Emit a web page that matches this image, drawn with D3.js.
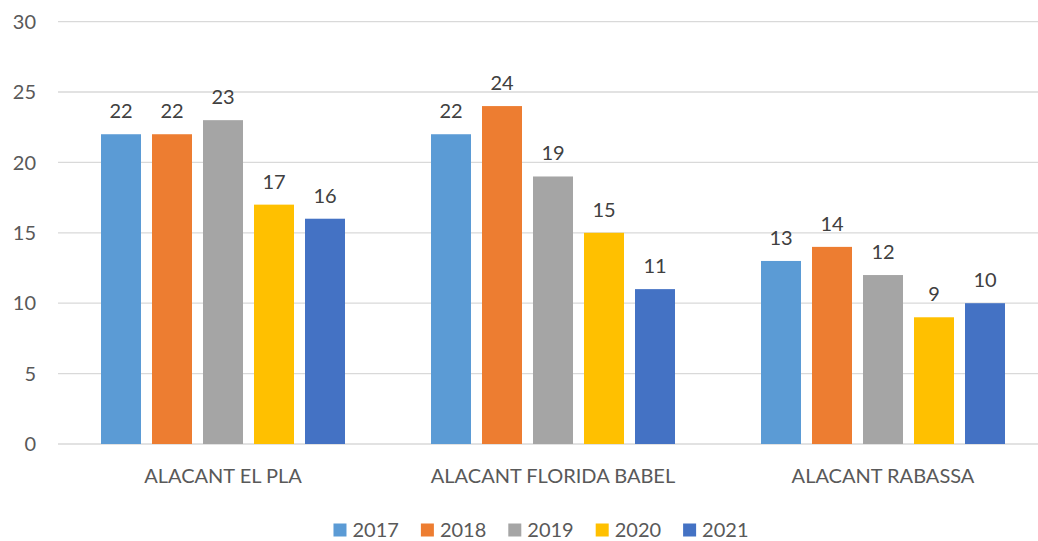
<!DOCTYPE html>
<html lang="en">
<head>
  <meta charset="UTF-8">
  <title>Alacant stations by year</title>
  <style>
    html, body { margin: 0; padding: 0; background: #fff; overflow: hidden; }
    svg { display: block; }
    svg text { font-family: Lato, "Open Sans", sans-serif; }
  </style>
</head>
<body>
<div id="chart"></div>
<script src="https://d3js.org/d3.v7.min.js"></script>
<script>
  const categories = ['ALACANT EL PLA', 'ALACANT FLORIDA BABEL', 'ALACANT RABASSA'];
  const years = ['2017', '2018', '2019', '2020', '2021'];
  const values2017 = [22, 22, 13];
  const values2018 = [22, 24, 14];
  const values2019 = [23, 19, 12];
  const values2020 = [17, 15, 9];
  const values2021 = [16, 11, 10];
  const yTicks = [0, 5, 10, 15, 20, 25, 30];
  const colors = ['#5B9BD5', '#ED7D31', '#A5A5A5', '#FFC000', '#4472C4'];

  const seriesValues = [values2017, values2018, values2019, values2020, values2021];

  const width = 1038;
  const height = 541;
  const margin = { top: 21.6, right: -10, bottom: 97, left: 58 };

  const svg = d3.select('#chart').append('svg')
    .attr('width', width)
    .attr('height', height);

  const y = d3.scaleLinear()
    .domain([0, 30])
    .range([height - margin.bottom, margin.top]);

  const x0 = d3.scaleBand()
    .domain(categories)
    .range([margin.left, width - margin.right]);

  // inner band: 40px bars, 11px gaps, centred in each group
  const innerWidth = 244;
  const x1 = d3.scaleBand()
    .domain(years)
    .range([(x0.bandwidth() - innerWidth) / 2, (x0.bandwidth() + innerWidth) / 2])
    .paddingInner(11 / 51);

  // flat list of bars
  const bars = [];
  categories.forEach((c, ci) => {
    years.forEach((yr, si) => {
      bars.push({ cat: c, year: yr, si, value: seriesValues[si][ci] });
    });
  });
  const barX = d => x0(d.cat) + x1(d.year);

  // gridlines
  svg.append('g')
    .selectAll('line')
    .data(yTicks)
    .join('line')
    .attr('x1', margin.left)
    .attr('x2', width)
    .attr('y1', d => y(d))
    .attr('y2', d => y(d))
    .attr('stroke', '#d9d9d9')
    .attr('stroke-width', 1.3);

  // y labels
  svg.append('g')
    .selectAll('text')
    .data(yTicks)
    .join('text')
    .attr('x', 36)
    .attr('y', d => y(d))
    .attr('dy', '0.36em')
    .attr('text-anchor', 'end')
    .attr('fill', '#595959')
    .attr('font-size', 20)
    .text(d => d);

  svg.append('g')
    .selectAll('rect')
    .data(bars)
    .join('rect')
    .attr('x', barX)
    .attr('width', x1.bandwidth())
    .attr('y', d => y(d.value))
    .attr('height', d => y(0) - y(d.value))
    .attr('fill', d => colors[d.si]);

  svg.append('g')
    .selectAll('text')
    .data(bars)
    .join('text')
    .attr('x', d => barX(d) + x1.bandwidth() / 2)
    .attr('y', d => y(d.value) - 16)
    .attr('text-anchor', 'middle')
    .attr('fill', '#404040')
    .attr('font-size', 20)
    .text(d => d.value);

  // category labels
  svg.append('g')
    .selectAll('text')
    .data(categories)
    .join('text')
    .attr('x', d => x0(d) + x0.bandwidth() / 2)
    .attr('y', 483)
    .attr('text-anchor', 'middle')
    .attr('fill', '#595959')
    .attr('font-size', 20)
    .text(d => d);

  // legend: measure labels first, then lay out centred at x=541
  const legendText = svg.append('g')
    .selectAll('text')
    .data(years)
    .join('text')
    .attr('y', 530)
    .attr('dy', '0.36em')
    .attr('fill', '#595959')
    .attr('font-size', 20)
    .text(d => d);

  const widths = [];
  legendText.each(function() { widths.push(this.getComputedTextLength()); });
  const gap = 22;
  const offsets = [];
  let cx = 0;
  widths.forEach(w => { offsets.push(cx); cx += 19 + w + gap; });
  const startX = 541 - (cx - gap) / 2;

  legendText.attr('x', (d, i) => startX + offsets[i] + 19);

  svg.append('g')
    .selectAll('rect')
    .data(years)
    .join('rect')
    .attr('x', (d, i) => startX + offsets[i])
    .attr('y', 530 - 6.5)
    .attr('width', 13)
    .attr('height', 13)
    .attr('fill', (d, i) => colors[i]);
</script>
</body>
</html>
